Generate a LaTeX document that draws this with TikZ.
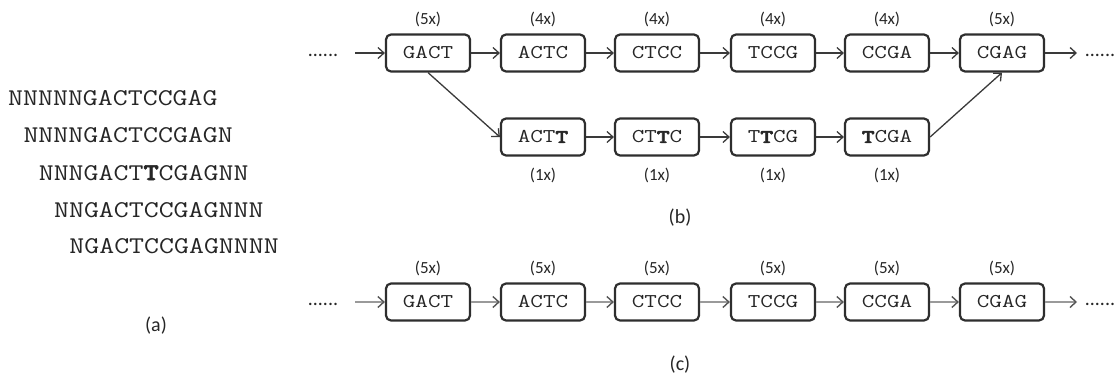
\documentclass[tikz,border=0pt]{standalone}
\usepackage{fontspec}
\usepackage{graphicx}
\newfontfamily\lab{Carlito}
\newfontface\tbf{lmmonolt10-bold.otf}[FakeBold=2.5]
\usetikzlibrary{arrows.meta}
\definecolor{boxc}{HTML}{2E2E2E}
\definecolor{txtc}{HTML}{262626}
\definecolor{arrc}{HTML}{3A3A3A}
\definecolor{garrc}{HTML}{9A9A9A}
\definecolor{gheadc}{HTML}{555555}
\newcommand\kmer[1]{\scalebox{1.25}[1]{#1}}
\newcommand\rd[1]{\scalebox{1.21}[1]{#1}}
\newcommand\bT{{\tbf T}}
\begin{document}
\begin{tikzpicture}[x=1pt,y=-1pt,
  kbox/.style={draw=boxc, line width=2.2pt, rounded corners=5pt, minimum width=84pt,
    minimum height=37pt, inner sep=0pt, fill=white, text=txtc,
    font=\ttfamily\fontsize{19.5}{20}\selectfont},
  cnt/.style={font=\lab\fontsize{17}{17}\selectfont, text=txtc, inner sep=0pt},
  plab/.style={font=\lab\fontsize{20}{20}\selectfont, text=txtc, inner sep=0pt},
  dots/.style={font=\lab\fontsize{20}{20}\selectfont, text=txtc, inner sep=0pt, anchor=base},
  rdl/.style={font=\ttfamily\fontsize{24}{24}\selectfont, text=txtc, inner sep=0pt, anchor=base west},
  arr/.style={draw=arrc, line width=1.3pt, -{Straight Barb[length=6pt,width=11pt,line width=1.3pt]}},
  garr/.style={draw=garrc, line width=2pt, -{Straight Barb[length=6pt,width=11pt,line width=1.4pt,color=gheadc]}}
]
\useasboundingbox (0,0) rectangle (1116,381);

% (a) reads
\node[rdl] (r1) at (8,105) {\rd{NNNNNGACTCCGAG}};
\node[rdl] (r2) at (23.3,142) {\rd{NNNNGACTCCGAGN}};
\node[rdl] (r3) at (38.6,180) {\rd{NNNGACT\bT CGAGNN}};
\node[rdl] (r4) at (53.9,217) {\rd{NNGACTCCGAGNNN}};
\node[rdl] (r5) at (69.2,253) {\rd{NGACTCCGAGNNNN}};
\node[plab] (la) at (156,326) {(a)};

% (b) graph
\node[kbox] (b1) at (428,53) {\kmer{GACT}};
\node[kbox] (b2) at (543,53) {\kmer{ACTC}};
\node[kbox] (b3) at (657,53) {\kmer{CTCC}};
\node[kbox] (b4) at (773,53) {\kmer{TCCG}};
\node[kbox] (b5) at (887,53) {\kmer{CCGA}};
\node[kbox] (b6) at (1002,53) {\kmer{CGAG}};
\node[kbox] (e1) at (543,137) {\kmer{ACT\bT}};
\node[kbox] (e2) at (657,137) {\kmer{CT\bT C}};
\node[kbox] (e3) at (773,137) {\kmer{T\bT CG}};
\node[kbox] (e4) at (887,137) {\kmer{\bT CGA}};

\node[cnt] (cb1) at (428,19) {(5x)};
\node[cnt] (cb2) at (543,19) {(4x)};
\node[cnt] (cb3) at (657,19) {(4x)};
\node[cnt] (cb4) at (773,19) {(4x)};
\node[cnt] (cb5) at (887,19) {(4x)};
\node[cnt] (cb6) at (1002,19) {(5x)};
\node[cnt] (ce1) at (543,175) {(1x)};
\node[cnt] (ce2) at (657,175) {(1x)};
\node[cnt] (ce3) at (773,175) {(1x)};
\node[cnt] (ce4) at (887,175) {(1x)};

\node[dots] (bdl) at (323,56) {......};
\node[dots] (bdr) at (1100,56) {......};
\coordinate (bls) at (355,53);
\coordinate (bre) at (1077,53);

\draw[arr] (bls) -- (b1.west);
\draw[arr] (b1) -- (b2);
\draw[arr] (b2) -- (b3);
\draw[arr] (b3) -- (b4);
\draw[arr] (b4) -- (b5);
\draw[arr] (b5) -- (b6);
\draw[arr] (b6.east) -- (bre);
\draw[arr] (b1.south) -- (e1.west);
\draw[arr] (e1) -- (e2);
\draw[arr] (e2) -- (e3);
\draw[arr] (e3) -- (e4);
\draw[arr] (e4.east) -- (b6.south);
\node[plab] (lb) at (680,218) {(b)};

% (c) graph
\node[kbox] (c1) at (428,302) {\kmer{GACT}};
\node[kbox] (c2) at (543,302) {\kmer{ACTC}};
\node[kbox] (c3) at (657,302) {\kmer{CTCC}};
\node[kbox] (c4) at (773,302) {\kmer{TCCG}};
\node[kbox] (c5) at (887,302) {\kmer{CCGA}};
\node[kbox] (c6) at (1002,302) {\kmer{CGAG}};
\foreach \i/\x in {1/428,2/543,3/657,4/773,5/887,6/1002}
  \node[cnt] (cc\i) at (\x,268) {(5x)};
\node[dots] (cdl) at (323,305) {......};
\node[dots] (cdr) at (1100,305) {......};
\coordinate (cls) at (355,302);
\coordinate (cre) at (1077,302);
\draw[garr] (cls) -- (c1.west);
\draw[garr] (c1) -- (c2);
\draw[garr] (c2) -- (c3);
\draw[garr] (c3) -- (c4);
\draw[garr] (c4) -- (c5);
\draw[garr] (c5) -- (c6);
\draw[garr] (c6.east) -- (cre);
\node[plab] (lc) at (680,365) {(c)};
\end{tikzpicture}
\end{document}
